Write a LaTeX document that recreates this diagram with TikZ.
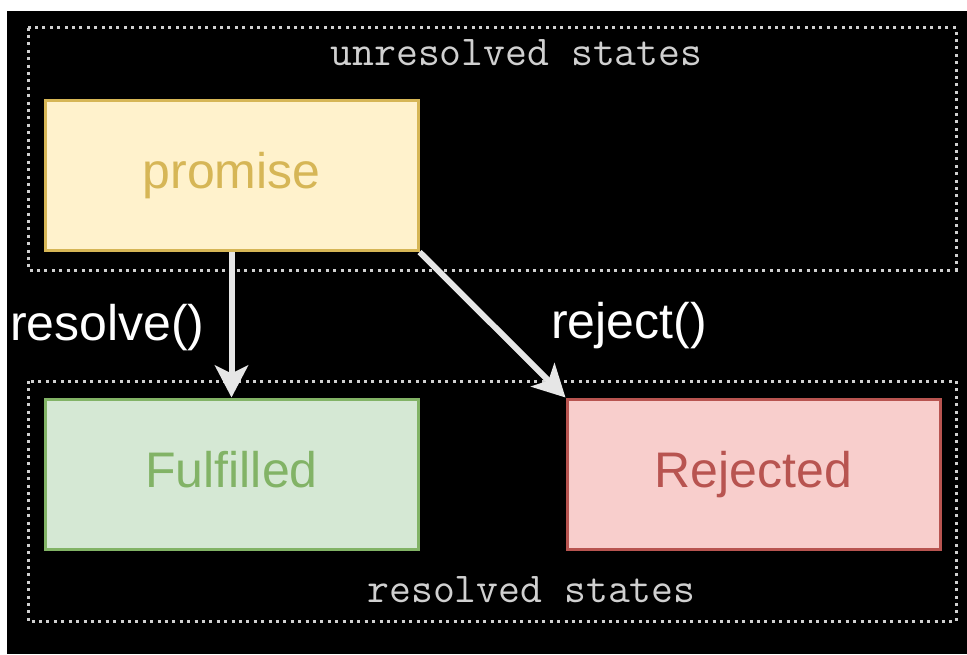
\documentclass[tikz,border=0pt]{standalone}
\usepackage{fontspec}
\setmainfont{Liberation Sans}
\usetikzlibrary{arrows.meta}
\definecolor{bgblack}{HTML}{000000}
\definecolor{dotgray}{HTML}{D0D0D0}
\definecolor{arrgray}{HTML}{E6E6E6}
\definecolor{yfill}{HTML}{FFF2CC}
\definecolor{ystroke}{HTML}{D6B656}
\definecolor{gfill}{HTML}{D5E8D4}
\definecolor{gstroke}{HTML}{82B366}
\definecolor{rfill}{HTML}{F8CECC}
\definecolor{rstroke}{HTML}{B85450}
\tikzset{
  statebox/.style={draw, line width=3pt, minimum width=373pt, minimum height=150pt,
    inner sep=0pt, text height=36pt, text depth=10pt,
    font=\fontsize{50}{60}\selectfont},
  dotframe/.style={draw=dotgray, line width=3pt, dash pattern=on 3pt off 4.4pt},
  framelabel/.style={text=dotgray, anchor=base, inner sep=0pt,
    font=\ttfamily\fontsize{42.5}{50}\selectfont},
  edgelabel/.style={text=white, anchor=base west, inner sep=0pt,
    font=\fontsize{50}{60}\selectfont},
  arr/.style={draw=arrgray, line width=6pt,
    -{Stealth[length=32pt,width=33pt,inset=8pt]}}
}
\begin{document}
\begin{tikzpicture}[x=1pt,y=-1pt]
\useasboundingbox (0,0) rectangle (967,654);
\fill[white] (0,0) rectangle (967,654);
\fill[bgblack] (7,11) rectangle (967,654);
\draw[dotframe] (28,27.5) rectangle (956,270);
\draw[dotframe] (28,381) rectangle (956,621.5);
\node[framelabel] (unres) at (516.5,65) {unresolved states};
\node[framelabel] (res) at (531.5,602) {resolved states};
\node[statebox, fill=yfill, draw=ystroke, text=ystroke] (promise) at (231.5,175.5) {promise};
\node[statebox, fill=gfill, draw=gstroke, text=gstroke] (fulfilled) at (231.5,474) {Fulfilled};
\node[statebox, fill=rfill, draw=rstroke, text=rstroke] (rejected) at (753.5,474) {Rejected};
\node[edgelabel] (lres) at (10,340) {resolve()};
\node[edgelabel] (lrej) at (551,338) {reject()};
\draw[arr] (promise.south) -- (fulfilled.north);
\draw[arr] (promise.south east) -- (rejected.north west);
\end{tikzpicture}
\end{document}
